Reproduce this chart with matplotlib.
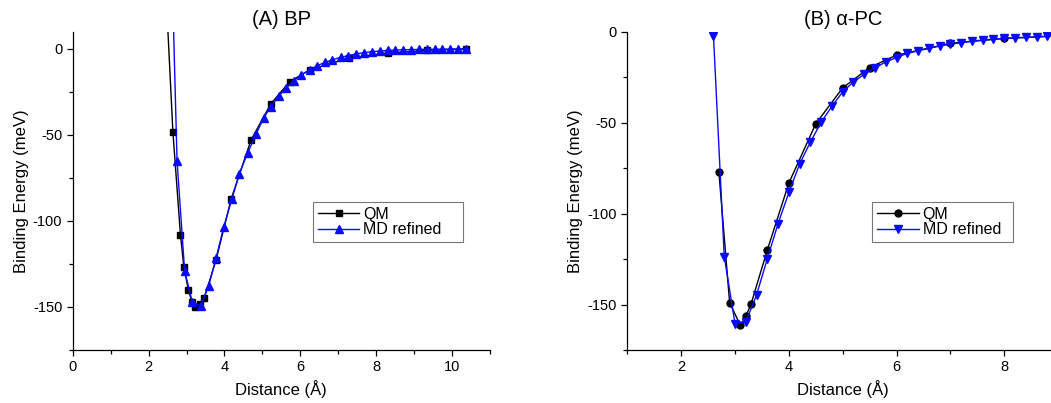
import matplotlib
matplotlib.use("Agg")
import matplotlib.pyplot as plt
from matplotlib.ticker import MultipleLocator

plt.rcParams['font.family'] = ['Liberation Sans', 'DejaVu Sans']
plt.rcParams['axes.unicode_minus'] = False

# (A) BP -- QM reference
bp_qm_x = [2.41, 2.64, 2.84, 2.93, 3.05, 3.14, 3.23, 3.36, 3.47, 3.78, 4.18, 4.70,
           5.22, 5.72, 6.25, 7.28, 8.31, 9.33, 10.37]
bp_qm_y = [55, -48, -108, -127, -140, -147, -150, -148, -144.5, -122.5, -87, -53,
           -32, -19, -12.2, -5.3, -2.4, -0.9, 0]

# (A) BP -- MD refined
bp_md_x = [2.51, 2.75, 2.95, 3.15, 3.37, 3.58, 3.78, 3.98, 4.20, 4.39, 4.61, 4.83,
           5.03, 5.22, 5.44, 5.63, 5.83, 6.03, 6.25, 6.45, 6.65, 6.84, 7.06, 7.26,
           7.47, 7.67, 7.89, 8.09, 8.30, 8.50, 8.71, 8.92, 9.12, 9.33, 9.54, 9.74,
           9.95, 10.16, 10.37]
bp_md_y = [135, -65, -129, -147, -149.4, -138, -121.5, -103.5, -87, -72.7, -60.6, -49.6,
           -40.3, -33.5, -27.2, -22.7, -18.4, -15, -12, -9.7, -7.8, -6.4, -4.9, -3.9,
           -2.9, -2.2, -1.6, -1.2, -0.9, -0.7, -0.5, -0.4, -0.3, -0.2, -0.2, -0.1,
           -0.1, 0, 0]

# (B) alpha-PC -- QM reference
pc_qm_x = [2.7, 2.9, 3.1, 3.2, 3.3, 3.6, 4.0, 4.5, 5.0, 5.5, 6.0, 7.0, 8.0, 9.0]
pc_qm_y = [-77, -149, -161.5, -156.5, -149.5, -120, -83.2, -50.6, -30.9, -19.7,
           -12.9, -6.4, -3.7, -2.4]

# (B) alpha-PC -- MD refined
pc_md_x = [2.6, 2.8, 3.0, 3.2, 3.4, 3.6, 3.8, 4.0, 4.2, 4.4, 4.6, 4.8, 5.0, 5.2,
           5.4, 5.6, 5.8, 6.0, 6.2, 6.4, 6.6, 6.8, 7.0, 7.2, 7.4, 7.6, 7.8, 8.0,
           8.2, 8.4, 8.6, 8.8, 9.0, 9.2]
pc_md_y = [-2.3, -123.6, -160.5, -159.6, -144.7, -124.8, -105.5, -88.4, -72.7, -60.7,
           -49.7, -41, -33.1, -27.6, -23.4, -19.9, -16.6, -14.2, -11.9, -10.5, -9.2,
           -7.9, -6.8, -6.1, -5.1, -4.6, -4.0, -3.7, -3.3, -3.1, -2.8, -2.4, -2.2, -2.0]

BLUE = '#0a0aff'

fig = plt.figure(figsize=(10.51, 4.03), dpi=100)
ax1 = fig.add_axes([0.0692, 0.1315, 0.3970, 0.7898])
ax2 = fig.add_axes([0.5969, 0.1315, 0.4098, 0.7898])


def style_axis(ax):
    for side in ['top', 'right']:
        ax.spines[side].set_visible(False)
    for side in ['left', 'bottom']:
        ax.spines[side].set_linewidth(0.9)
    ax.tick_params(which='major', length=4, width=0.9, labelsize=10.5, direction='out')
    ax.tick_params(which='minor', length=3, width=0.9, direction='out')
    ax.xaxis.set_major_locator(MultipleLocator(2))
    ax.xaxis.set_minor_locator(MultipleLocator(1))
    ax.yaxis.set_major_locator(MultipleLocator(50))
    ax.yaxis.set_minor_locator(MultipleLocator(25))
    ax.set_xlabel("Distance (\u00c5)", fontsize=12)
    ax.set_ylabel("Binding Energy (meV)", fontsize=12, labelpad=3)


def add_legend(ax, box):
    leg = ax.legend(loc='lower left', bbox_to_anchor=box, mode='expand', numpoints=1,
                    fontsize=11.5, handlelength=2.6, handletextpad=0.25, borderpad=0.3,
                    labelspacing=0.05, borderaxespad=0, fancybox=False, framealpha=1,
                    edgecolor='#777777')
    leg.get_frame().set_linewidth(0.8)


# Panel A
ax1.plot(bp_qm_x, bp_qm_y, '-s', color='black', lw=1.0, ms=4.5, label='QM')
ax1.plot(bp_md_x, bp_md_y, '-^', color=BLUE, mec=BLUE, lw=1.0, ms=5.5, label='MD refined')
ax1.set_xlim(0, 11)
ax1.set_ylim(-175, 10)
style_axis(ax1)
ax1.set_title("(A) BP", fontsize=14.5, pad=5)
add_legend(ax1, (0.576, 0.339, 0.36, 0.139))

# Panel B
ax2.plot(pc_qm_x, pc_qm_y, '-o', color='black', lw=1.0, ms=5, label='QM')
ax2.plot(pc_md_x, pc_md_y, '-v', color=BLUE, mec=BLUE, lw=1.0, ms=5.5, label='MD refined')
ax2.set_xlim(1, 9)
ax2.set_ylim(-175, 0)
style_axis(ax2)
ax2.set_title("(B) \u03b1-PC", fontsize=14.5, pad=5)
add_legend(ax2, (0.569, 0.339, 0.326, 0.141))

fig.savefig("out.png", dpi=100)
